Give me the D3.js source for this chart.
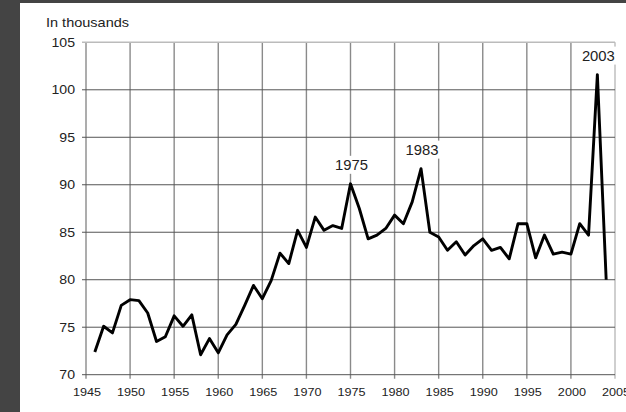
<!DOCTYPE html>
<html><head><meta charset="utf-8">
<script src="https://cdn.jsdelivr.net/npm/d3@7"></script>
<style>html,body{margin:0;padding:0;background:#444;}svg{display:block;}</style>
</head><body>
<svg id="chart" width="626" height="412"></svg>
<script>
const years = [1946,1947,1948,1949,1950,1951,1952,1953,1954,1955,1956,1957,1958,1959,1960,1961,1962,1963,1964,1965,1966,1967,1968,1969,1970,1971,1972,1973,1974,1975,1976,1977,1978,1979,1980,1981,1982,1983,1984,1985,1986,1987,1988,1989,1990,1991,1992,1993,1994,1995,1996,1997,1998,1999,2000,2001,2002,2003,2004];
const values = [72.4,75.1,74.4,77.3,77.9,77.8,76.5,73.5,74.0,76.2,75.1,76.3,72.1,73.8,72.3,74.2,75.3,77.3,79.4,78.0,79.9,82.8,81.7,85.2,83.4,86.6,85.2,85.7,85.4,90.1,87.5,84.3,84.7,85.4,86.8,85.9,88.2,91.7,85.0,84.5,83.1,84.0,82.6,83.6,84.3,83.1,83.4,82.2,85.9,85.9,82.3,84.7,82.7,82.9,82.7,85.9,84.7,101.6,80.0];
const xTicks = [1945,1950,1955,1960,1965,1970,1975,1980,1985,1990,1995,2000,2005];
const yTicks = [70,75,80,85,90,95,100,105];
const peakYears = [1975,1983,2003];
const yLabel = "In thousands";

const svg = d3.select("#chart");
svg.append("rect").attr("x",0).attr("y",0).attr("width",626).attr("height",412).attr("fill","#444");
svg.append("rect").attr("x",20).attr("y",3).attr("width",606).attr("height",409).attr("fill","#fff");

const x = d3.scaleLinear().domain([1945,2005]).range([86,615]);
const y = d3.scaleLinear().domain([70,105]).range([374.7,42.3]);
const font = "Liberation Sans, Arial, sans-serif";

function stretchText(g, tx, ty, txt, size, sx, anchor){
  g.append("text").attr("transform",`translate(${tx},${ty}) scale(${sx},1)`)
    .attr("text-anchor",anchor).attr("font-family",font).attr("font-size",size)
    .attr("fill","#222").text(txt);
}

// vertical gridlines
svg.append("g").selectAll("line").data(xTicks).join("line")
  .attr("x1",d=>x(d)).attr("x2",d=>x(d)).attr("y1",y(105)).attr("y2",y(70)+4)
  .attr("stroke",d=>d===2005?"#bbb":"#8a8a8a").attr("stroke-width",1.4);
// horizontal gridlines
svg.append("g").selectAll("line").data(yTicks).join("line")
  .attr("x1",x(1945)-4).attr("x2",x(2005)).attr("y1",d=>y(d)).attr("y2",d=>y(d))
  .attr("stroke",d=>d===105?"#bbb":"#555").attr("stroke-width",d=>d===105?1.4:1);

const tg = svg.append("g");
yTicks.forEach(d=>stretchText(tg, x(1945)-11, y(d)+4.5, d, 12.5, 1.13, "end"));
xTicks.forEach(d=>stretchText(tg, x(d)+1, 395.5, d, 11.5, 1.1, "middle"));
stretchText(tg, 46, 27, yLabel, 12.3, 1.18, "start");

// peak labels with white background
const data = years.map((yr,i)=>({yr,v:values[i]}));
const peaks = data.filter(d=>peakYears.includes(d.yr));
const pg = svg.append("g");
peaks.forEach(p=>{
  const ty = y(p.v) - 14;
  pg.append("rect").attr("x",x(p.yr)-19).attr("y",ty-14).attr("width",38).attr("height",18).attr("fill","#fff");
  stretchText(pg, x(p.yr)+1, ty, p.yr, 14, 1.06, "middle");
});

// data line
const line = d3.line().x(d=>x(d.yr)).y(d=>y(d.v));
svg.append("path").datum(data).attr("d",line).attr("fill","none")
  .attr("stroke","#000").attr("stroke-width",2.9).attr("stroke-linejoin","round");
</script>
</body></html>
